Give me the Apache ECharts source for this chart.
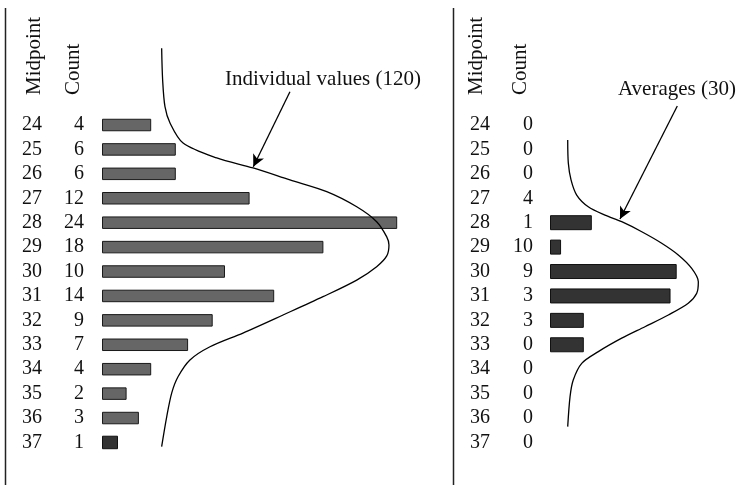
<!DOCTYPE html>
<html>
<head>
<meta charset="utf-8">
<script src="https://cdn.jsdelivr.net/npm/echarts@6/dist/echarts.min.js"></script>
<style>
  html, body { margin: 0; padding: 0; background: #fff; }
  #chart { width: 740px; height: 485px; }
</style>
</head>
<body>
<div id="chart"></div>
<script>
// ---- data ----
const midpoints = [24, 25, 26, 27, 28, 29, 30, 31, 32, 33, 34, 35, 36, 37];
const individualCounts = [4, 6, 6, 12, 24, 18, 10, 14, 9, 7, 4, 2, 3, 1];
const individualBars = [4, 6, 6, 12, 24, 18, 10, 14, 9, 7, 4, 2, 3, 1.3];
const averageCounts = [0, 0, 0, 4, 1, 10, 9, 3, 3, 0, 0, 0, 0, 0];
const averageBars = [0, 0, 0, 0, 3.4, 0.9, 10.3, 9.8, 2.75, 2.75, 0, 0, 0, 0];

// normal curves, read point by point (x = count units, y = midpoint position)
const individualCurveX = [4.85, 4.93, 5.12, 5.53, 6.59, 9.33, 12.28, 15.28, 18.27, 20.71, 22.33, 23.15, 23.33, 23.15, 22.33, 20.71, 17.97, 14.72, 11.46, 8.78, 7.15, 6.18, 5.67, 5.26, 4.85];
const individualCurveY = [20.86, 22.16, 23.25, 23.92, 24.74, 25.35, 25.76, 26.25, 26.73, 27.35, 27.96, 28.58, 28.91, 29.36, 29.80, 30.35, 31.03, 31.78, 32.52, 33.08, 33.62, 34.31, 34.97, 35.95, 37.17];
const averageCurveX = [1.44, 1.49, 1.71, 2.17, 3.11, 4.47, 5.83, 7.46, 9.08, 10.43, 11.52, 12.06, 11.93, 11.24, 9.62, 7.72, 5.83, 3.93, 2.58, 1.89, 1.63, 1.44];
const averageCurveY = [24.61, 25.56, 26.25, 26.87, 27.35, 27.69, 27.96, 28.37, 28.84, 29.32, 29.87, 30.42, 30.89, 31.30, 31.78, 32.26, 32.73, 33.28, 33.76, 34.44, 35.12, 36.35];

// annotation arrows [start, tip] in the same units
const individualArrow = [[15.28, 22.64], [12.3, 25.71]];
const averageArrow = [[10.35, 23.22], [5.69, 27.85]];

const individualLabel = 'Individual values (120)';
const averageLabel = 'Averages (30)';
const headerMid = 'Midpoint';
const headerCount = 'Count';

// ---- build ----
const FONT = '"Liberation Serif", "Times New Roman", serif';
const INK = '#111';
const last = midpoints.length - 1;
const cats = midpoints.map(String);
const zeroToNull = v => (v === 0 ? null : v);

const ROW = 24.42;        // px per midpoint row
const UNIT = 12.3;        // px per count unit
const barTop = 125 - ROW / 2;
const barH = ROW * midpoints.length;
const curveTop = 8, curveH = 477;
const yMinCurve = 24 - (125 - curveTop) / ROW;
const yMaxCurve = yMinCurve + curveH / ROW;

const hidden = { show: false };
function catAxis(grid, margin, fmt) {
  return {
    type: 'category', gridIndex: grid, data: cats, inverse: true, position: 'left',
    axisLine: hidden, axisTick: hidden, splitLine: hidden,
    axisLabel: { show: true, interval: 0, margin: margin, color: INK, fontFamily: FONT, fontSize: 20, formatter: fmt }
  };
}
function valX(grid, max) {
  return { type: 'value', gridIndex: grid, min: 0, max: max, show: false, splitLine: hidden };
}
function valY(grid) {
  return { type: 'value', gridIndex: grid, min: yMinCurve, max: yMaxCurve, inverse: true, show: false, splitLine: hidden };
}
const gridBase = { containLabel: false, outerBoundsMode: 'none', show: false };

const option = {
  animation: false,
  textStyle: { fontFamily: FONT },
  grid: [
    Object.assign({ left: 102, top: barTop, width: 30 * UNIT, height: barH }, gridBase),
    Object.assign({ left: 550, top: barTop, width: 15 * UNIT, height: barH }, gridBase),
    Object.assign({ left: 102, top: curveTop, width: 30 * UNIT, height: curveH }, gridBase),
    Object.assign({ left: 550, top: curveTop, width: 15 * UNIT, height: curveH }, gridBase)
  ],
  xAxis: [valX(0, 30), valX(1, 15), valX(2, 30), valX(3, 15)],
  yAxis: [
    catAxis(0, 18, (v, i) => String(individualCounts[i])),
    catAxis(0, 60, (v, i) => String(midpoints[i])),
    catAxis(1, 17, (v, i) => String(averageCounts[i])),
    catAxis(1, 60, (v, i) => String(midpoints[i])),
    valY(2),
    valY(3)
  ],
  series: [
    {
      type: 'bar', xAxisIndex: 0, yAxisIndex: 0, barWidth: 12.5,
      data: individualBars.map((v, i) => (i === last ? null : zeroToNull(v))),
      itemStyle: { color: '#666', borderColor: '#1a1a1a', borderWidth: 1 },
      silent: true
    },
    {
      type: 'bar', xAxisIndex: 0, yAxisIndex: 1, barWidth: 13.5,
      data: individualBars.map((v, i) => (i === last ? zeroToNull(v) : null)),
      itemStyle: { color: '#333', borderColor: '#111', borderWidth: 1 },
      silent: true
    },
    {
      type: 'bar', xAxisIndex: 1, yAxisIndex: 2, barWidth: 15,
      data: averageBars.map(zeroToNull),
      itemStyle: { color: '#333', borderColor: '#111', borderWidth: 1 },
      silent: true
    },
    {
      type: 'line', xAxisIndex: 2, yAxisIndex: 4, smooth: 0.3, showSymbol: false, silent: true,
      clip: false,
      data: individualCurveX.map((x, i) => [x, individualCurveY[i]]),
      lineStyle: { color: '#000', width: 1.3 },
      markLine: {
        silent: true, symbol: ['none', 'arrow'], symbolSize: [9, 12],
        label: { show: false },
        lineStyle: { type: 'solid', color: '#000', width: 1.3 },
        data: [[{ coord: individualArrow[0] }, { coord: individualArrow[1] }]]
      }
    },
    {
      type: 'line', xAxisIndex: 3, yAxisIndex: 5, smooth: 0.3, showSymbol: false, silent: true,
      clip: false,
      data: averageCurveX.map((x, i) => [x, averageCurveY[i]]),
      lineStyle: { color: '#000', width: 1.3 },
      markLine: {
        silent: true, symbol: ['none', 'arrow'], symbolSize: [9, 12],
        label: { show: false },
        lineStyle: { type: 'solid', color: '#000', width: 1.3 },
        data: [[{ coord: averageArrow[0] }, { coord: averageArrow[1] }]]
      }
    }
  ],
  graphic: [
    { type: 'line', shape: { x1: 5.5, y1: 8, x2: 5.5, y2: 485 }, style: { stroke: '#222', lineWidth: 1.5 }, silent: true },
    { type: 'line', shape: { x1: 453.5, y1: 8, x2: 453.5, y2: 485 }, style: { stroke: '#222', lineWidth: 1.5 }, silent: true },
    { type: 'text', x: 34, y: 95, rotation: Math.PI / 2, style: { text: headerMid, font: '21px ' + FONT, fill: INK, align: 'left', verticalAlign: 'middle' }, silent: true },
    { type: 'text', x: 73, y: 95, rotation: Math.PI / 2, style: { text: headerCount, font: '21px ' + FONT, fill: INK, align: 'left', verticalAlign: 'middle' }, silent: true },
    { type: 'text', x: 476, y: 95, rotation: Math.PI / 2, style: { text: headerMid, font: '21px ' + FONT, fill: INK, align: 'left', verticalAlign: 'middle' }, silent: true },
    { type: 'text', x: 520, y: 95, rotation: Math.PI / 2, style: { text: headerCount, font: '21px ' + FONT, fill: INK, align: 'left', verticalAlign: 'middle' }, silent: true },
    { type: 'text', x: 225, y: 79, style: { text: individualLabel, font: '21px ' + FONT, fill: INK, align: 'left', verticalAlign: 'middle' }, silent: true },
    { type: 'text', x: 618, y: 89, style: { text: averageLabel, font: '21px ' + FONT, fill: INK, align: 'left', verticalAlign: 'middle' }, silent: true }
  ]
};

const chart = echarts.init(document.getElementById('chart'), null, { renderer: 'canvas' });
chart.setOption(option);
</script>
</body>
</html>
